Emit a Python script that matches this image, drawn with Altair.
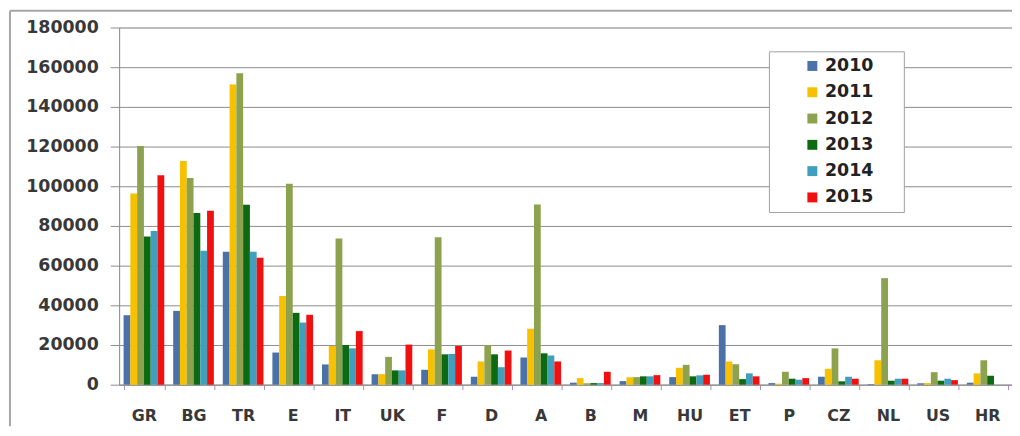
import altair as alt
import pandas as pd

countries = ["GR", "BG", "TR", "E", "IT", "UK", "F", "D", "A", "B", "M", "HU", "ET", "P", "CZ", "NL", "US", "HR"]
years = ["2010", "2011", "2012", "2013", "2014", "2015"]

v2010 = [35000, 37200, 67000, 16200, 10200, 5300, 7500, 4000, 13700, 1000, 1800, 3800, 30000, 800, 4000, 300, 700, 1000]
v2011 = [96300, 112700, 151300, 44700, 19500, 5300, 17800, 11700, 28200, 3300, 3700, 8500, 11700, 500, 8000, 12300, 800, 5700]
v2012 = [120300, 104200, 157000, 101200, 73700, 14000, 74300, 20000, 90800, 700, 3800, 10000, 10300, 6500, 18300, 53700, 6300, 12300]
v2013 = [74700, 86500, 90700, 36200, 20000, 7200, 15300, 15300, 15800, 800, 4200, 4200, 2800, 3000, 1700, 2000, 2000, 4500]
v2014 = [77500, 67500, 67000, 31300, 18300, 7200, 15500, 8800, 14700, 800, 4200, 4700, 5700, 2500, 4000, 3000, 3000, None]
v2015 = [105500, 87700, 64000, 35200, 27000, 20200, 19500, 17200, 11700, 6500, 4800, 5000, 4200, 3300, 3000, 3000, 2300, None]

colors = ["#4a72a8", "#f7c000", "#8da24f", "#0b6a12", "#3f9fbc", "#f01010"]

series = [v2010, v2011, v2012, v2013, v2014, v2015]
rows = []
for y, vals in zip(years, series):
    for c, v in zip(countries, vals):
        if v is not None:
            rows.append({"country": c, "year": y, "value": v})
df = pd.DataFrame(rows)

FONT = "DejaVu Sans"

bars = alt.Chart(df).mark_bar().encode(
    x=alt.X("country:N", sort=countries, title=None,
            scale=alt.Scale(paddingInner=0.18, paddingOuter=0.09),
            axis=alt.Axis(labelAngle=0, labelFont=FONT, labelFontSize=16, labelFontWeight="bold",
                          labelColor="#383838", labelPadding=18, tickBand="extent", ticks=True,
                          tickSize=5, tickColor="#b08ac0", domainColor="#8c8c8c", grid=False)),
    xOffset=alt.XOffset("year:N", sort=years, scale=alt.Scale(paddingInner=0, paddingOuter=0)),
    y=alt.Y("value:Q", title=None,
            scale=alt.Scale(domain=[0, 180000], nice=False),
            axis=alt.Axis(values=list(range(0, 180001, 20000)), format="d", labelFont=FONT,
                          labelFontSize=17.5, labelFontWeight="bold", labelColor="#383838",
                          labelPadding=12, tickSize=9, tickColor="#8c8c8c", domainColor="#8c8c8c",
                          gridColor="#8c8c8c", gridWidth=1)),
    color=alt.Color("year:N", sort=years,
                    scale=alt.Scale(domain=years, range=colors),
                    legend=alt.Legend(title=None, orient="none", legendX=655, legendY=24,
                                      symbolType="square", symbolSize=100, symbolOffset=29,
                                      symbolStrokeWidth=0, labelFont=FONT, labelFontSize=17.5,
                                      labelFontWeight="bold", labelColor="#222222", labelOffset=4,
                                      rowPadding=7.5, padding=6, strokeColor="#a0a0a0",
                                      fillColor="white",
                                      labelExpr="datum.label + '\u00a0\u00a0\u00a0\u00a0\u200b'")),
)

frame_left = alt.Chart(pd.DataFrame({"k": [0]})).mark_rule(color="#a6a6a6", strokeWidth=2).encode(
    x=alt.value(-110), y=alt.value(-17), y2=alt.value(402)
)
frame_top = alt.Chart(pd.DataFrame({"k": [0]})).mark_rule(color="#a6a6a6", strokeWidth=2).encode(
    x=alt.value(-110), x2=alt.value(900), y=alt.value(-17)
)

chart = alt.layer(bars, frame_left, frame_top).properties(
    width=900, height=360,
    autosize=alt.AutoSizeParams(type="none"),
    padding={"left": 112, "top": 18, "right": 0, "bottom": 42},
).configure_view(stroke=None).configure(background="white")

chart.save("out.html", embed_options={"renderer": "svg", "actions": False})
